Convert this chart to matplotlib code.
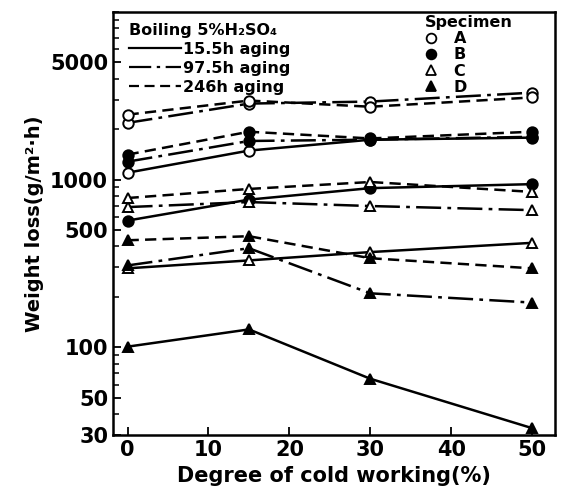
import matplotlib
matplotlib.use("Agg")
import matplotlib.pyplot as plt
from matplotlib.lines import Line2D
from matplotlib.ticker import FixedLocator, NullFormatter

plt.rcParams.update({
    "font.family": "DejaVu Sans",
    "font.weight": "bold",
    "axes.labelweight": "bold",
})

# Data: degree of cold working (%) and weight loss (g/m2 h)
cold_work = [0, 15, 30, 50]

a_155 = [1100, 1490, 1730, 1780]
a_975 = [2180, 2840, 2920, 3300]
a_246 = [2440, 2960, 2720, 3090]

b_155 = [570, 760, 890, 940]
b_975 = [1280, 1700, 1730, 1800]
b_246 = [1410, 1930, 1760, 1930]

c_155 = [296, 330, 370, 420]
c_975 = [686, 735, 696, 658]
c_246 = [777, 880, 968, 845]

d_155 = [101, 128, 65, 33]
d_975 = [308, 390, 210, 185]
d_246 = [435, 460, 340, 296]

specimens = ["A", "B", "C", "D"]
aging_labels = ["15.5h aging", "97.5h aging", "246h aging"]
y_ticks = [30, 50, 100, 500, 1000, 5000]
x_ticks = [0, 10, 20, 30, 40, 50]

# Style
STYLES = {
    "15.5": "-",
    "97.5": (0, (10, 2.5, 1.5, 2.5)),
    "246": (0, (4.5, 2.5)),
}
MARKERS = {
    "A": dict(marker="o", mfc="white"),
    "B": dict(marker="o", mfc="black"),
    "C": dict(marker="^", mfc="white"),
    "D": dict(marker="^", mfc="black"),
}

series = [
    ("A", "15.5", a_155), ("A", "97.5", a_975), ("A", "246", a_246),
    ("B", "15.5", b_155), ("B", "97.5", b_975), ("B", "246", b_246),
    ("C", "15.5", c_155), ("C", "97.5", c_975), ("C", "246", c_246),
    ("D", "15.5", d_155), ("D", "97.5", d_975), ("D", "246", d_246),
]

fig = plt.figure(figsize=(5.65, 4.95), dpi=100)
ax = fig.add_axes([0.2, 0.121, 0.782, 0.855])

for spec, aging, vals in series:
    m = MARKERS[spec]
    ax.plot(cold_work, vals, color="black", lw=1.8, ls=STYLES[aging],
            marker=m["marker"], mfc=m["mfc"], mec="black", mew=1.4, ms=7.5)

ax.set_yscale("log")
ax.set_ylim(30, 10000)
ax.set_xlim(-1.8, 52.8)

ax.yaxis.set_major_locator(FixedLocator(y_ticks))
ax.set_yticklabels([str(t) for t in y_ticks])
minor = [m * d for d in (10, 100, 1000) for m in range(1, 10)] + [10000]
minor = [v for v in minor if v not in y_ticks]
ax.yaxis.set_minor_locator(FixedLocator(minor))
ax.yaxis.set_minor_formatter(NullFormatter())
ax.set_xticks(x_ticks)

ax.tick_params(axis="both", which="major", direction="in", length=6, width=1.3,
               labelsize=15, top=False, right=False)
ax.tick_params(axis="both", which="minor", direction="in", length=4, width=1.1,
               top=False, right=False)
ax.tick_params(axis="x", which="minor", length=0)
for s in ax.spines.values():
    s.set_linewidth(1.8)

ax.set_xlabel("Degree of cold working(%)", fontsize=15, labelpad=4)
ax.set_ylabel("Weight loss(g/m²·h)", fontsize=14, labelpad=4)

# Legend for aging time
line_handles = [Line2D([], [], color="black", lw=1.6, ls=STYLES[k]) for k in ("15.5", "97.5", "246")]
leg1 = ax.legend(line_handles, aging_labels, title="Boiling 5%H₂SO₄",
                 loc="upper left", bbox_to_anchor=(0.01, 1.0), frameon=False,
                 prop={"size": 11.5, "weight": "bold"},
                 title_fontproperties={"size": 11.5, "weight": "bold"},
                 handlelength=3.3, handletextpad=0.1, labelspacing=0.25,
                 alignment="left", borderaxespad=0.3)
ax.add_artist(leg1)

# Legend for specimen
marker_handles = [Line2D([], [], color="black", ls="none", marker=MARKERS[s]["marker"],
                         mfc=MARKERS[s]["mfc"], mec="black", mew=1.3, ms=7) for s in specimens]
ax.legend(marker_handles, specimens, title="Specimen", loc="upper right",
          bbox_to_anchor=(0.937, 1.027), frameon=False,
          prop={"size": 11.5, "weight": "bold"}, title_fontproperties={"size": 11.5, "weight": "bold"},
          handlelength=0.8, handletextpad=1.0, labelspacing=0.08, alignment="left")

fig.savefig("out.png", dpi=100)
